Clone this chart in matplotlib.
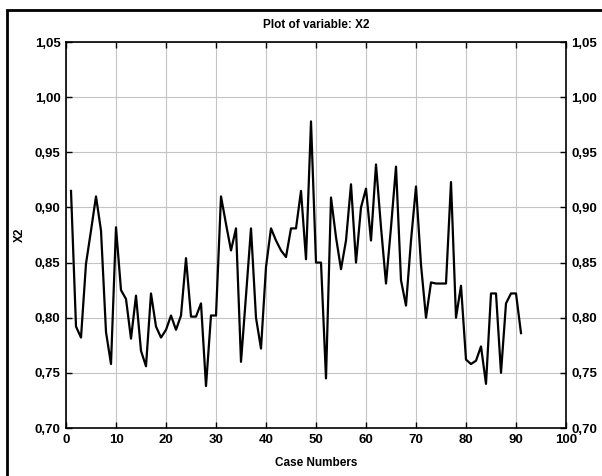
import matplotlib.pyplot as plt
from matplotlib.patches import Rectangle
from matplotlib.ticker import FuncFormatter

# values, case numbers 1..91
x2 = [0.915, 0.792, 0.782, 0.849, 0.879, 0.910, 0.879, 0.787, 0.758, 0.882,
      0.825, 0.817, 0.781, 0.820, 0.770, 0.756, 0.822, 0.792, 0.782, 0.789,
      0.802, 0.789, 0.802, 0.854, 0.801, 0.801, 0.813, 0.738, 0.802, 0.802,
      0.910, 0.885, 0.861, 0.881, 0.760, 0.820, 0.881, 0.800, 0.772, 0.846,
      0.881, 0.870, 0.861, 0.855, 0.881, 0.881, 0.915, 0.853, 0.978, 0.850,
      0.850, 0.745, 0.909, 0.873, 0.844, 0.870, 0.921, 0.850, 0.900, 0.917,
      0.870, 0.939, 0.882, 0.831, 0.882, 0.937, 0.834, 0.811, 0.870, 0.919,
      0.848, 0.800, 0.832, 0.831, 0.831, 0.831, 0.923, 0.800, 0.829, 0.762,
      0.758, 0.761, 0.774, 0.740, 0.822, 0.822, 0.750, 0.813, 0.822, 0.822,
      0.786]
cases = list(range(1, len(x2) + 1))

xticks = list(range(0, 101, 10))
yticks = [0.70, 0.75, 0.80, 0.85, 0.90, 0.95, 1.00, 1.05]

plt.rcParams['font.family'] = ['Liberation Sans Narrow', 'Liberation Sans', 'DejaVu Sans']
plt.rcParams['font.weight'] = 'bold'

fig = plt.figure(figsize=(6.02, 4.76), dpi=100)
ax = fig.add_axes([66 / 602, 1 - 428 / 476, 500 / 602, 386 / 476])

ax.plot(cases, x2, color='black', lw=1.6)

ax.set_xlim(0, 100)
ax.set_ylim(0.70, 1.05)
ax.set_xticks(xticks)
ax.set_yticks(yticks)
ax.yaxis.set_major_formatter(FuncFormatter(lambda v, p: f"{v:.2f}".replace('.', ',')))
ax.grid(True, color='#c4c4c4', lw=0.8)
ax.tick_params(direction='in', length=4, width=1, labelsize=9.5,
               top=True, right=True, labelright=True, pad=4)
for s in ax.spines.values():
    s.set_linewidth(1.2)

fig.text(316 / 602, 1 - 25 / 476, "Plot of variable: X2", fontsize=8.5,
         fontweight='bold', ha='center', va='center')
fig.text(316 / 602, 1 - 463 / 476, "Case Numbers", fontsize=8.5,
         fontweight='bold', ha='center', va='center')
fig.text(20 / 602, 1 - 235 / 476, "X2", fontsize=8.5, fontweight='bold',
         ha='center', va='center', rotation=90)

# outer frame, cut off at right and bottom like the reference
fig.patches.append(Rectangle((7 / 602, -0.05), 1.0, 1 - 10 / 476 + 0.05,
                             transform=fig.transFigure, fill=False,
                             edgecolor='black', lw=2))

fig.savefig("out.png", dpi=100)
